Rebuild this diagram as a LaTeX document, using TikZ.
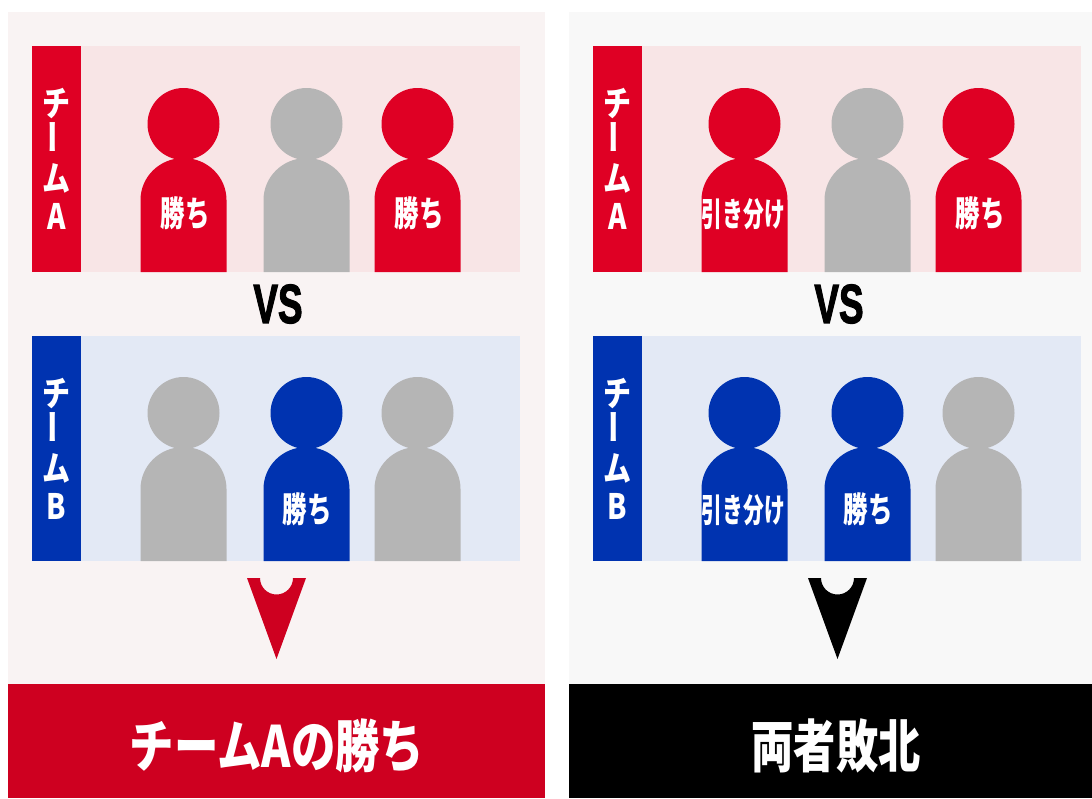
\documentclass[tikz,border=0pt]{standalone}
\usepackage{fontspec}
\setmainfont{Liberation Sans}
\newfontfamily\cjk{Noto Sans CJK JP}
\newfontfamily\heavy{Liberation Sans}[FakeBold=2.5]
\definecolor{teamred}{HTML}{DF0024}
\definecolor{teamblue}{HTML}{0033B0}
\definecolor{offgray}{HTML}{B5B5B5}
\definecolor{bandred}{HTML}{CE0020}
\definecolor{panelred}{HTML}{F9F3F3}
\definecolor{panelgray}{HTML}{F8F8F8}
\definecolor{rowred}{HTML}{F8E5E6}
\definecolor{rowblue}{HTML}{E3E9F5}
\tikzset{
  tagtext/.style={text=white,inner sep=0pt,align=center,xscale=.8,font=\cjk\bfseries\fontsize{35}{37.5}\selectfont},
  vstext/.style={inner sep=0pt,xscale=.67,font=\heavy\bfseries\fontsize{55}{55}\selectfont},
  wintext/.style={text=white,inner sep=0pt,xscale=.7,font=\cjk\bfseries\fontsize{35}{35}\selectfont},
  drawtext/.style={text=white,inner sep=0pt,xscale=.63,font=\cjk\bfseries\fontsize{33}{33}\selectfont},
  resulttext/.style={text=white,inner sep=0pt,xscale=.78,font=\cjk\bfseries\fontsize{57}{57}\selectfont}
}
\begin{document}
\begin{tikzpicture}[x=1pt,y=-1pt]
  \useasboundingbox (0,0) rectangle (1092,798);
  \fill[white] (0,0) rectangle (1092,798);
  % panels, rows and bands
  \foreach \x/\pw/\panelcol/\bandcol in {0/537/panelred/bandred, 561/523/panelgray/black}{
    \fill[\panelcol] (\x+8,12) rectangle ++(\pw,672);
    \fill[\bandcol] (\x+8,684) rectangle ++(\pw,114);
    \fill[rowred] (\x+81,46) rectangle (\x+520,272);
    \fill[rowblue] (\x+81,336) rectangle (\x+520,561);
    \fill[teamred] (\x+32,46) rectangle (\x+81,272);
    \fill[teamblue] (\x+32,336) rectangle (\x+81,561);
    \node[tagtext] (tagA\x) at (\x+56.5,159) {チ\\\rotatebox{90}{ー}\\ム\\A};
    \node[tagtext] (tagB\x) at (\x+56.5,449) {チ\\\rotatebox{90}{ー}\\ム\\B};
    \node[vstext] (vs\x) at (\x+278,304) {VS};
    \fill[\bandcol] (\x+247,578) -- (\x+260,578) arc[start angle=180,end angle=0,radius=16.5] -- (\x+306,578) -- (\x+276.5,659) -- cycle;
  }
  % people
  \foreach \x/\y/\col in {183.5/272/teamred, 306.5/272/offgray, 417.5/272/teamred,
    183.5/561/offgray, 306.5/561/teamblue, 417.5/561/offgray,
    744.5/272/teamred, 867.5/272/offgray, 978.5/272/teamred,
    744.5/561/teamblue, 867.5/561/teamblue, 978.5/561/offgray}{
    \fill[\col] (\x,\y-148) circle (36);
    \fill[\col] (\x-43,\y) -- (\x-43,\y-72) arc[start angle=180,end angle=360,x radius=43,y radius=42] -- (\x+43,\y) -- cycle;
  }
  \foreach \x/\y/\name in {185/213/win1, 419/213/win2, 307/509/win3, 980/213/win4, 868/509/win5}{
    \node[wintext] (\name) at (\x,\y) {勝ち};
  }
  \foreach \x/\y/\name in {743.5/214/even1, 743.5/510/even2}{
    \node[drawtext] (\name) at (\x,\y) {引き分け};
  }
  % results
  \node[resulttext] (resultA) at (277,746) {チームAの勝ち};
  \node[resulttext,xscale=.95] (resultB) at (836,746) {両者敗北};
\end{tikzpicture}
\end{document}
